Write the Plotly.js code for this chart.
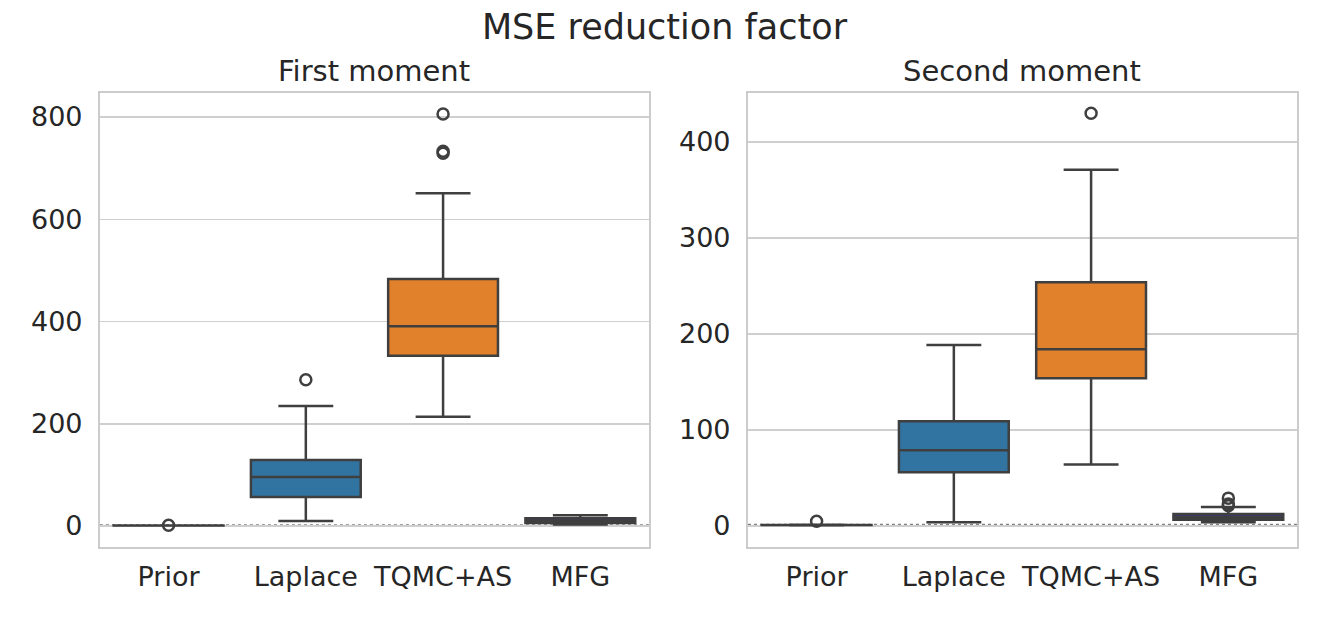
<!DOCTYPE html>
<html>
<head>
<meta charset="utf-8">
<script src="https://cdn.plot.ly/plotly-3.0.1.min.js"></script>
<style>html,body{margin:0;padding:0;background:#fff;}#chart{width:1329px;height:625px;}</style>
</head>
<body>
<div id="chart"></div>
<script>
// ---- data ----
const categories = ['Prior', 'Laplace', 'TQMC+AS', 'MFG'];
const boxColors = ['#8c8c8c', '#3274a1', '#e1812c', '#3a3a72'];

// First moment
const m1_q1 = [0.95, 57, 333, 6];
const m1_median = [1.0, 96, 391, 10];
const m1_q3 = [1.05, 129, 483, 15];
const m1_lower = [0.9, 10, 214, 3];
const m1_upper = [1.1, 235, 651, 21];
const m1_outliers = [[1.5], [286], [806, 733, 729], []];

// Second moment
const m2_q1 = [0.9, 56, 154, 6.5];
const m2_median = [1.0, 79, 184, 9];
const m2_q3 = [1.1, 109, 254, 12.5];
const m2_lower = [0.8, 3.9, 64, 3.8];
const m2_upper = [1.2, 188.5, 371, 19.8];
const m2_outliers = [[5], [], [430], [29, 23, 21]];

const yTicks1 = [0, 200, 400, 600, 800];
const yTicks2 = [0, 100, 200, 300, 400];
const refLine = 1;

// ---- build ----
const edge = '#3f3f3f';
const font = 'DejaVu Sans, sans-serif';
const traces = [];
function addPanel(q1, med, q3, lo, up, outs, xa, ya) {
  categories.forEach((c, i) => {
    traces.push({
      type: 'box', x: [c], q1: [q1[i]], median: [med[i]], q3: [q3[i]],
      lowerfence: [lo[i]], upperfence: [up[i]],
      xaxis: xa, yaxis: ya, width: 0.8, whiskerwidth: 0.5,
      fillcolor: boxColors[i], line: {color: edge, width: 2.5},
      boxpoints: false, showlegend: false, hoverinfo: 'y'
    });
    if (outs[i].length) {
      traces.push({
        type: 'scatter', mode: 'markers', x: outs[i].map(() => c), y: outs[i],
        xaxis: xa, yaxis: ya, showlegend: false, cliponaxis: false,
        marker: {symbol: 'circle-open', size: 11, color: edge, line: {width: 2.5, color: edge}}
      });
    }
  });
}
addPanel(m1_q1, m1_median, m1_q3, m1_lower, m1_upper, m1_outliers, 'x', 'y');
addPanel(m2_q1, m2_median, m2_q3, m2_lower, m2_upper, m2_outliers, 'x2', 'y2');

const tickFont = {family: font, size: 27, color: '#262626'};
function xAxis(domain, anchor) {
  return {domain: domain, anchor: anchor, type: 'category', categoryorder: 'array',
    categoryarray: categories, range: [-0.5, 3.5], showgrid: false, zeroline: false,
    showline: true, mirror: true, linecolor: '#cccccc', linewidth: 2,
    ticks: 'outside', ticklen: 5, tickcolor: 'rgba(0,0,0,0)', tickfont: tickFont, fixedrange: true};
}
function yAxis(domain, anchor, range, ticks) {
  return {domain: domain, anchor: anchor, range: range, tickvals: ticks, ticktext: ticks.map(String),
    showgrid: true, gridcolor: '#cfcfcf', gridwidth: 1.5, zeroline: false,
    showline: true, mirror: true, linecolor: '#cccccc', linewidth: 2,
    ticks: 'outside', ticklen: 10, tickcolor: 'rgba(0,0,0,0)', tickfont: tickFont, fixedrange: true};
}
const yDom = [0.1248, 0.8512];
const layout = {
  width: 1329, height: 625, margin: {l: 0, r: 0, t: 0, b: 0},
  paper_bgcolor: '#ffffff', plot_bgcolor: '#ffffff',
  font: {family: font, color: '#262626'},
  title: {text: 'MSE reduction factor', font: {family: font, size: 35, color: '#262626'},
    x: 0.5, xanchor: 'center', y: 0.957, yanchor: 'middle'},
  xaxis: xAxis([0.0752, 0.4883], 'y'),
  yaxis: yAxis(yDom, 'x', [-41, 847], yTicks1),
  xaxis2: xAxis([0.5628, 0.9759], 'y2'),
  yaxis2: yAxis(yDom, 'x2', [-21.9, 451], yTicks2),
  annotations: [
    {text: 'First moment', xref: 'paper', yref: 'paper', x: (0.0752 + 0.4883) / 2, y: 0.886,
      xanchor: 'center', yanchor: 'middle', showarrow: false, font: {family: font, size: 29, color: '#262626'}},
    {text: 'Second moment', xref: 'paper', yref: 'paper', x: (0.5628 + 0.9759) / 2, y: 0.886,
      xanchor: 'center', yanchor: 'middle', showarrow: false, font: {family: font, size: 29, color: '#262626'}}
  ],
  shapes: [
    {type: 'line', xref: 'x domain', yref: 'y', x0: 0, x1: 1, y0: refLine, y1: refLine,
      line: {color: '#808080', width: 2.5, dash: 'dot'}, layer: 'below'},
    {type: 'line', xref: 'x2 domain', yref: 'y2', x0: 0, x1: 1, y0: refLine, y1: refLine,
      line: {color: '#808080', width: 2.5, dash: 'dot'}, layer: 'below'}
  ]
};
Plotly.newPlot('chart', traces, layout, {displayModeBar: false, staticPlot: true});
</script>
</body>
</html>
